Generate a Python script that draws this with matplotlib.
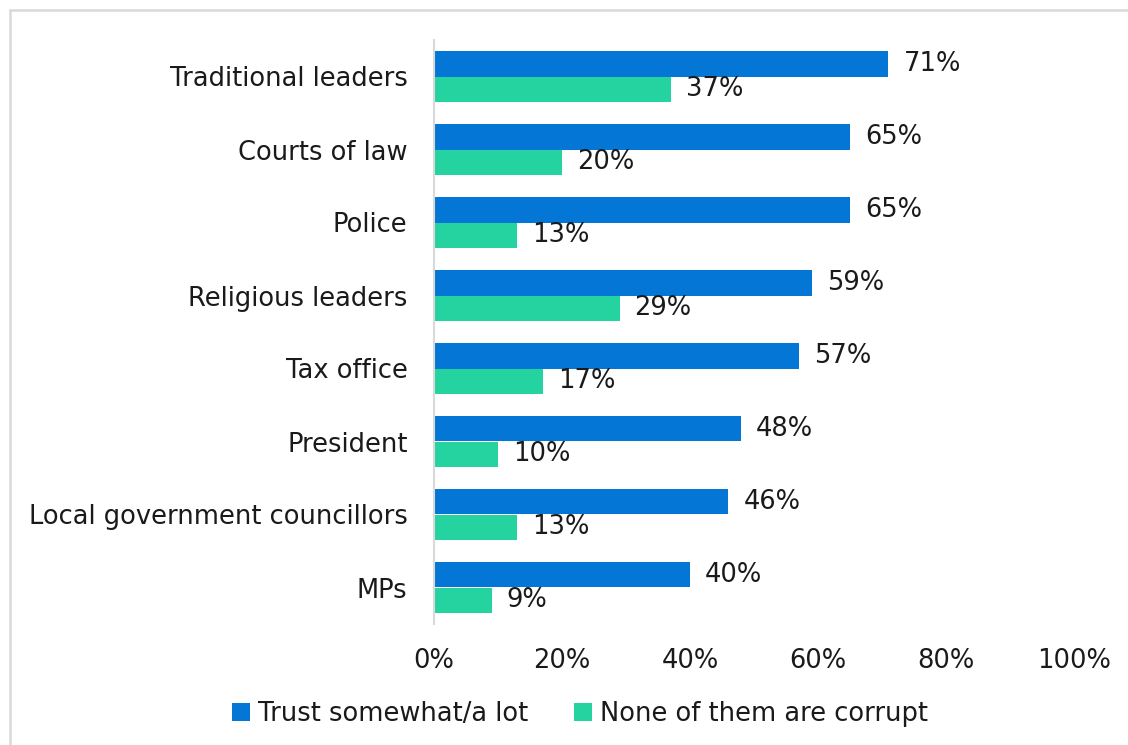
import matplotlib
matplotlib.use("Agg")
import matplotlib.pyplot as plt
from matplotlib.patches import Rectangle
import numpy as np

plt.rcParams['font.family'] = ['DejaVu Sans']

categories = ["Traditional leaders", "Courts of law", "Police", "Religious leaders",
              "Tax office", "President", "Local government councillors", "MPs"]
trust = [71, 65, 65, 59, 57, 48, 46, 40]
not_corrupt = [37, 20, 13, 29, 17, 10, 13, 9]
series_names = ["Trust somewhat/a lot", "None of them are corrupt"]
xticks = [0, 20, 40, 60, 80, 100]

blue = "#0477d6"
green = "#25d3a0"
text_color = "#1a1a1a"
fs = 18.5

fig = plt.figure(figsize=(11.28, 7.45), dpi=100)
# outer frame of the chart area (runs off the right and bottom edges)
fig.patches.append(Rectangle((10 / 1128, -0.05), 1.1, 1.05 - 10 / 745,
                             transform=fig.transFigure, fill=False,
                             edgecolor="#d9d9d9", linewidth=1.8))
ax = fig.add_axes([434 / 1128, 1 - 624 / 745, 640 / 1128, 584 / 745])

y = np.arange(len(categories))
h = 0.345
b1 = ax.barh(y - h / 2, trust, height=h, color=blue, label=series_names[0])
b2 = ax.barh(y + h / 2, not_corrupt, height=h, color=green, label=series_names[1])

for bars, vals in ((b1, trust), (b2, not_corrupt)):
    for bar, v in zip(bars, vals):
        ax.annotate(f"{v}%", (v, bar.get_y() + bar.get_height() / 2),
                    xytext=(15, 0), textcoords="offset pixels",
                    va="center", ha="left", fontsize=fs, color=text_color)

ax.set_xlim(0, 100)
ax.set_ylim(len(categories) - 0.5, -0.5)
ax.set_yticks(y)
ax.set_yticklabels(categories, fontsize=fs, color=text_color)
ax.set_xticks(xticks)
ax.set_xticklabels([f"{t}%" for t in xticks], fontsize=fs, color=text_color)
ax.tick_params(axis="both", length=0)
ax.tick_params(axis="y", pad=19)
ax.tick_params(axis="x", pad=17)
for s in ("top", "right", "bottom"):
    ax.spines[s].set_visible(False)
ax.spines["left"].set_color("#d9d9d9")
ax.spines["left"].set_linewidth(1.5)

fig.legend(handles=[b1, b2], loc="center", bbox_to_anchor=(580 / 1128, 1 - 714 / 745),
           ncol=2, frameon=False, fontsize=fs, handlelength=0.7, handleheight=0.7,
           handletextpad=0.3, columnspacing=1.8, labelcolor=text_color)

fig.savefig("out.png", dpi=100)
